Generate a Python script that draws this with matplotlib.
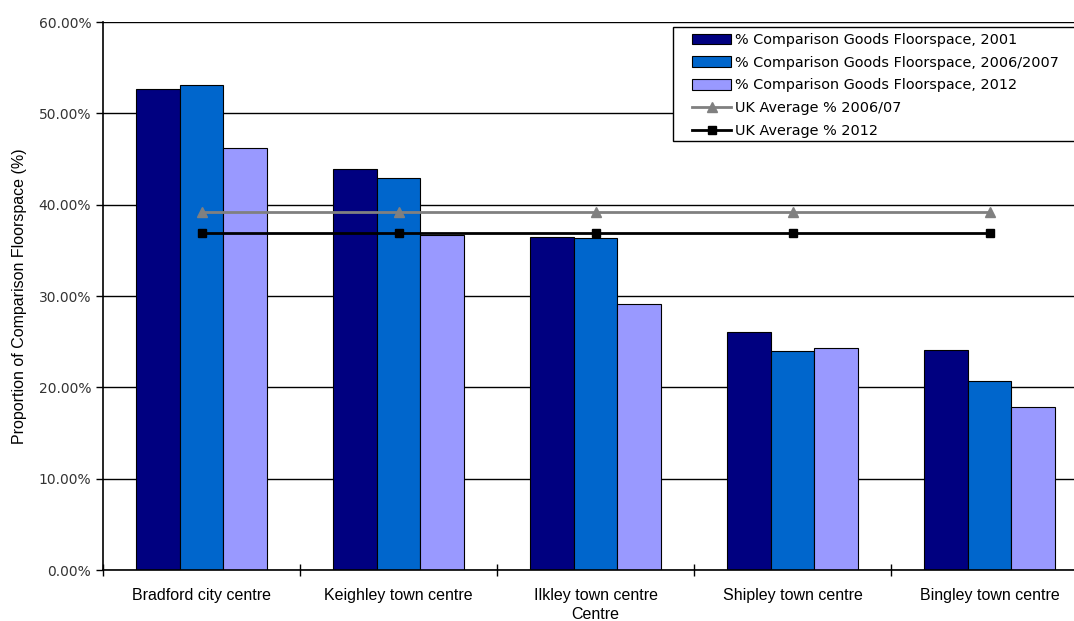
import matplotlib
matplotlib.use('Agg')
import matplotlib.pyplot as plt
import numpy as np
from matplotlib.patches import Rectangle
from matplotlib.ticker import FixedLocator, PercentFormatter

centres = ['Bradford city centre', 'Keighley town centre', 'Ilkley town centre',
           'Shipley town centre', 'Bingley town centre']
comp_2001 = [52.7, 43.9, 36.5, 26.1, 24.1]
comp_2006 = [53.1, 42.9, 36.4, 24.0, 20.7]
comp_2012 = [46.2, 36.7, 29.1, 24.3, 17.9]
uk_avg_2006 = [39.2, 39.2, 39.2, 39.2, 39.2]
uk_avg_2012 = [36.9, 36.9, 36.9, 36.9, 36.9]

narrow = ['Liberation Sans', 'DejaVu Sans']
W, H = 1074, 621

fig = plt.figure(figsize=(W / 100, H / 100), dpi=100)
# plot area runs off the right edge of the figure
ax = fig.add_axes([103/W, 51/H, 985/W, 548/H])

x = np.arange(len(centres))
w = 0.22
bar_kw = dict(width=w, edgecolor='black', linewidth=0.8, zorder=2)
b1 = ax.bar(x - w, comp_2001, color='#000080', label='% Comparison Goods Floorspace, 2001', **bar_kw)
b2 = ax.bar(x, comp_2006, color='#0066CC', label='% Comparison Goods Floorspace, 2006/2007', **bar_kw)
b3 = ax.bar(x + w, comp_2012, color='#9999FF', label='% Comparison Goods Floorspace, 2012', **bar_kw)

l1, = ax.plot(x, uk_avg_2006, color='#808080', lw=2, marker='^', ms=7, label='UK Average % 2006/07', zorder=3)
l2, = ax.plot(x, uk_avg_2012, color='black', lw=2, marker='s', ms=6, label='UK Average % 2012', zorder=3)

ax.set_xlim(-0.5, len(centres) - 0.5)
ax.set_ylim(0, 60)
ax.set_yticks(np.arange(0, 61, 10))
ax.yaxis.set_major_formatter(PercentFormatter(decimals=2))
ax.yaxis.grid(True, color='black', lw=1, zorder=0)
ax.set_axisbelow(True)

ax.set_xticks(x)
ax.set_xticklabels(centres, family=narrow, fontsize=11.5)
ax.xaxis.set_minor_locator(FixedLocator(np.arange(-0.5, len(centres), 1)))
ax.tick_params(axis='x', which='major', length=0, pad=13)
ax.tick_params(axis='x', which='minor', length=8, direction='inout', width=1)
ax.tick_params(axis='y', length=5, width=1, labelsize=10, colors='black')
for lbl in ax.get_yticklabels():
    lbl.set_color('#333333')

for side in ['top', 'right']:
    ax.spines[side].set_visible(False)
for side in ['left', 'bottom']:
    ax.spines[side].set_linewidth(1.2)

ax.set_xlabel('Centre', family=narrow, fontsize=11.5, labelpad=3)
ax.set_ylabel('Proportion of Comparison Floorspace (%)', family=narrow, fontsize=11.5, labelpad=8)

# legend box, clipped by the right edge like the plot area
fig.patches.append(Rectangle((673/W, 1 - 141/H), 420/W, 114/H, transform=fig.transFigure,
                             facecolor='white', edgecolor='black', lw=1, zorder=4))
leg = fig.legend([b1, b2, b3, l1, l2], [h.get_label() for h in (b1, b2, b3, l1, l2)],
                 loc='upper left', bbox_to_anchor=(692/W, 1 - 33/H),
                 fontsize=10.4, frameon=False,
                 handlelength=2.7, handleheight=0.75, handletextpad=0.25, borderpad=0,
                 labelspacing=0.6, borderaxespad=0)
leg.set_zorder(5)

fig.savefig('out.png', dpi=100)
